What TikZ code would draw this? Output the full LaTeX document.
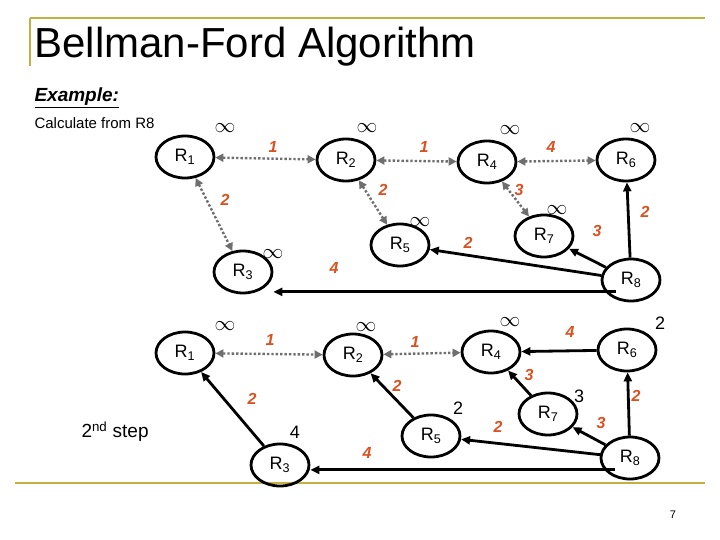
\documentclass[tikz,border=0pt]{standalone}
\usepackage{fontspec}
\setmainfont{Liberation Sans}
\usetikzlibrary{arrows.meta,shapes.geometric}
\definecolor{olive}{RGB}{196,176,64}
\definecolor{wred}{RGB}{220,80,30}
\definecolor{dgray}{RGB}{110,110,110}
\begin{document}
\begin{tikzpicture}[x=1pt,y=-1pt,
  rt/.style={draw=black,line width=2.8pt,ellipse,minimum width=58pt,minimum height=42pt,inner sep=0pt,font=\fontsize{18}{18}\selectfont},
  wt/.style={text=wred,font=\fontsize{16}{16}\selectfont\bfseries\itshape},
  dist/.style={font=\fontsize{18}{18}\selectfont},
  inf/.style={font=\fontsize{22}{22}\selectfont},
  dot/.style={draw=dgray,line width=2.4pt,dotted,{Triangle[length=8pt,width=8pt,fill=dgray]}-{Triangle[length=8pt,width=8pt,fill=dgray]},shorten <=0pt},
  sol/.style={draw=black,line width=2.8pt,-{Triangle[length=9pt,width=8pt]}}]
\useasboundingbox (0,0) rectangle (720,540);
\draw[olive,line width=1.5pt] (30,18) -- (705,18) (30,18) -- (30,66);
\draw[olive,line width=1.5pt] (15,483) -- (705,483);
\node[anchor=west,font=\fontsize{42}{42}\selectfont] (title) at (31,47) {Bellman-Ford Algorithm};
\node[anchor=west,font=\fontsize{19}{19}\selectfont\bfseries\itshape] (ex) at (31,98) {\underline{Example:}};
\node[anchor=west,font=\fontsize{15}{15}\selectfont] (calc) at (31,123) {Calculate from R8};
\node[anchor=west,font=\fontsize{19}{19}\selectfont] (step) at (78,432) {2\textsuperscript{nd} step};
\node[font=\fontsize{11}{11}\selectfont] (pg) at (673,515) {7};
% top graph
\node[rt] (a1) at (185,157) {R\textsubscript{1}};
\node[rt] (a2) at (346,160) {R\textsubscript{2}};
\node[rt] (a4) at (487,162) {R\textsubscript{4}};
\node[rt] (a6) at (626,160) {R\textsubscript{6}};
\node[rt] (a5) at (400,245) {R\textsubscript{5}};
\node[rt] (a7) at (544,236) {R\textsubscript{7}};
\node[rt] (a3) at (243,272) {R\textsubscript{3}};
\node[rt] (a8) at (631,280) {R\textsubscript{8}};
\foreach \n/\x/\y in {i1/225/128,i2/367/128,i4/510/130,i6/640/128,i5/420/222,i7/557/210,i3/273/254}
  \node[inf] (\n) at (\x,\y) {$\infty$};
\draw[dot] (a1) -- (a2); \draw[dot] (a2) -- (a4); \draw[dot] (a4) -- (a6);
\draw[dot] (a1) -- (a3); \draw[dot] (a2) -- (a5); \draw[dot] (a4) -- (a7);
\draw[sol] (a8) -- (a6); \draw[sol] (a8) -- (a7); \draw[sol] (a8) -- (a5);
\coordinate (a8l) at ([xshift=6pt,yshift=4pt]a8.south west);
\draw[sol] (a8l) -- (a8l -| a3.east);
\foreach \n/\t/\x/\y in {w1/1/273/147,w2/1/424/147,w3/4/551/147,w4/2/225/200,w5/2/383/190,w6/3/519/190,w7/2/468/243,w8/3/597/231,w9/2/645/212,w10/4/334/268}
  \node[wt] (\n) at (\x,\y) {\t};
% bottom graph
\node[rt] (b1) at (185,353) {R\textsubscript{1}};
\node[rt] (b2) at (353,355) {R\textsubscript{2}};
\node[rt] (b4) at (491,352) {R\textsubscript{4}};
\node[rt] (b6) at (627,350) {R\textsubscript{6}};
\node[rt] (b7) at (548,414) {R\textsubscript{7}};
\node[rt] (b5) at (431,436) {R\textsubscript{5}};
\node[rt] (b3) at (280,465) {R\textsubscript{3}};
\node[rt] (b8) at (630,458) {R\textsubscript{8}};
\foreach \n/\x/\y in {j1/225/326,j2/366/327,j4/510/322}
  \node[inf] (\n) at (\x,\y) {$\infty$};
\foreach \n/\t/\x/\y in {d6/2/660/323,d7/3/579/396,d5/2/458/408,d3/4/295/432}
  \node[dist] (\n) at (\x,\y) {\t};
\draw[dot] (b1) -- (b2); \draw[dot] (b2) -- (b4);
\draw[sol] (b3) -- (b1); \draw[sol] (b5) -- (b2); \draw[sol] (b7) -- (b4);
\draw[sol] (b6) -- (b4); \draw[sol] (b8) -- (b6); \draw[sol] (b8) -- (b7);
\draw[sol] (b8) -- (b5);
\coordinate (b8l) at ([xshift=6pt,yshift=4pt]b8.south west);
\draw[sol] (b8l) -- (b8l -| b3.east);
\foreach \n/\t/\x/\y in {v1/1/270/340,v2/1/415/342,v3/4/570/332,v4/2/252/399,v5/2/397/386,v6/3/529/375,v7/2/498/427,v8/3/601/423,v9/2/636/396,v10/4/367/453}
  \node[wt] (\n) at (\x,\y) {\t};
\end{tikzpicture}
\end{document}
